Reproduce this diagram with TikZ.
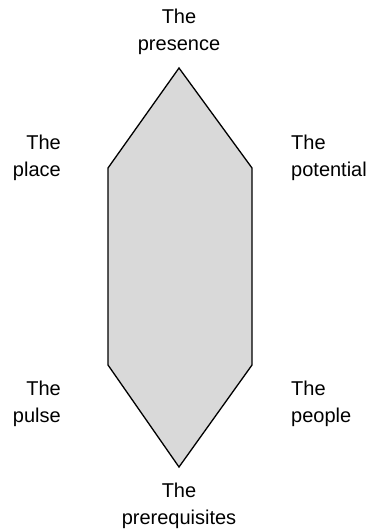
\documentclass[tikz,border=0pt]{standalone}
\usepackage{fontspec}
\setmainfont{Liberation Sans}
\definecolor{hexgray}{RGB}{217,217,217}
\tikzset{lab/.style={inner sep=0pt, font=\fontsize{20}{27}\selectfont}}
\begin{document}
\begin{tikzpicture}[x=1pt,y=-1pt]
\useasboundingbox (0,0) rectangle (372,529);
\def\xL{108};
\def\xM{179};
\def\xR{252};
\coordinate (T) at (\xM,68);
\coordinate (UL) at (\xL,168);
\coordinate (LL) at (\xL,365);
\coordinate (B) at (\xM,467);
\coordinate (LR) at (\xR,365);
\coordinate (UR) at (\xR,168);
\draw[line width=1.3pt, fill=hexgray, line join=miter] (T)--(UL)--(LL)--(B)--(LR)--(UR)--cycle;
\node[lab, align=center, anchor=north] (presence) at (\xM,9) {The\\presence};
\node[lab, align=right, anchor=north east] (place) at (61,135) {The\\place};
\node[lab, align=left, anchor=north west] (potential) at (291,135) {The\\potential};
\node[lab, align=right, anchor=north east] (pulse) at (61,381) {The\\pulse};
\node[lab, align=left, anchor=north west] (people) at (291,381) {The\\people};
\node[lab, align=center, anchor=north] (prereq) at (\xM,483) {The\\prerequisites};
\end{tikzpicture}
\end{document}
